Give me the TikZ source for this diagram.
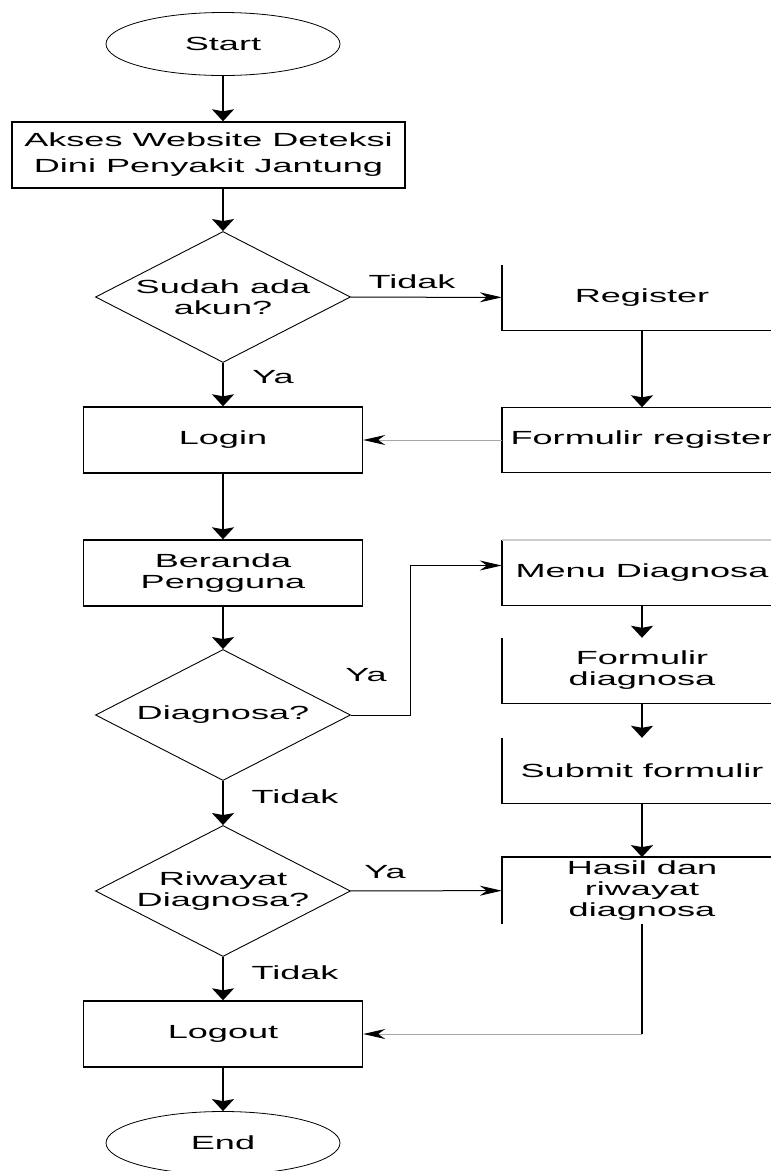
\documentclass[tikz,border=0pt]{standalone}
\usepackage{fontspec}
\setmainfont{Liberation Sans}[FakeStretch=1.9]
\usetikzlibrary{shapes.geometric,arrows.meta}

\begin{document}
\begin{tikzpicture}[x=1pt,y=-1pt,
	every node/.style={font=\fontsize{19}{21}\selectfont, align=center},
	terminal/.style={ellipse, draw, line width=0.8pt, minimum width=234pt, minimum height=63pt},
	process/.style={rectangle, draw, line width=1.4pt, minimum width=279pt, minimum height=66pt},
	decision/.style={diamond, draw, line width=0.9pt, aspect=1.95, inner sep=0pt, minimum width=255pt, minimum height=131pt},
	sidebox/.style={rectangle, minimum width=280pt, minimum height=65pt},
	edge/.style={line width=1.4pt},
	down/.style={line width=1.8pt, -{Stealth[width=22pt,length=12pt,inset=2pt]}},
	across/.style={line width=1pt, -{Stealth[width=10pt,length=22pt,inset=7pt,color=black]}},
	faint/.style={across, draw=black!35}]
		\useasboundingbox (0,0) rectangle (771,1171);

		% main column
		\node[terminal] (start) at (223,44) {Start};
		\node[process, minimum width=393pt, font=\fontsize{19}{26}\selectfont] (akses) at (208.5,155) {Akses Website Deteksi\\Dini Penyakit Jantung};
		\node[decision] (ask) at (223,297) {Sudah ada\\akun?};
		\node[process] (login) at (223,440) {Login};
		\node[process] (home) at (223,573) {Beranda\\Pengguna};
		\node[decision] (diag) at (223,715) {Diagnosa?};
		\node[decision] (hist) at (223,891) {Riwayat\\Diagnosa?};
		\node[process] (logout) at (223,1034) {Logout};
		\node[terminal] (end) at (223,1143) {End};

		% right column
		\node[sidebox] (reg) at (642,297.5) {Register};
		\node[sidebox] (formreg) at (642,440) {Formulir register};
		\node[sidebox] (menu) at (642,572.5) {Menu Diagnosa};
		\node[sidebox] (fdiag) at (642,670.5) {Formulir\\diagnosa};
		\node[sidebox] (submit) at (642,770.5) {Submit formulir};
		\node[sidebox] (hasil) at (642,890.5) {Hasil dan\\riwayat\\diagnosa};

		\foreach \n in {reg,menu,fdiag,submit}
			\draw[edge] (\n.north west) -- (\n.south west) -- (\n.south east);
		\draw[edge] (formreg.north east) -- (formreg.north west) -- (formreg.south west) -- (formreg.south east);
		\draw[edge] (hasil.south west) -- (hasil.north west) -- (hasil.north east);
		\draw[edge, draw=black!20] (menu.north west) -- (menu.north east);

		% connectors
		\draw[down] (start) -- (start |- akses.north);
		\draw[down] (start |- akses.south) -- (ask);
		\draw[down] (ask) -- (login);
		\draw[down] (login) -- (home);
		\draw[down] (home) -- (diag);
		\draw[down] (diag) -- (hist);
		\draw[down] (hist) -- (logout);
		\draw[down] (logout) -- (end);
		\draw[down] (reg) -- (formreg);
		\draw[down] (menu) -- (fdiag);
		\draw[down] (fdiag) -- (submit);
		\draw[down] (submit) -- (hasil);

		\draw[across] (ask) -- (reg);
		\draw[faint] (formreg) -- (login);
		\draw[across] (diag.east) -- ++(60,0) |- ([yshift=7pt]menu.west);
		\draw[across] (hist) -- (hasil);
		\coordinate (turn) at (hasil.south |- logout);
		\draw[line width=1.8pt] (hasil.south) -- (turn);
		\draw[faint] (turn) -- (logout);

		% labels
		\node at (412,282) {Tidak};
		\node at (273,377) {Ya};
		\node at (366,675) {Ya};
		\node at (295,797) {Tidak};
		\node at (385,872) {Ya};
		\node at (295,973) {Tidak};
	\end{tikzpicture}
\end{document}
